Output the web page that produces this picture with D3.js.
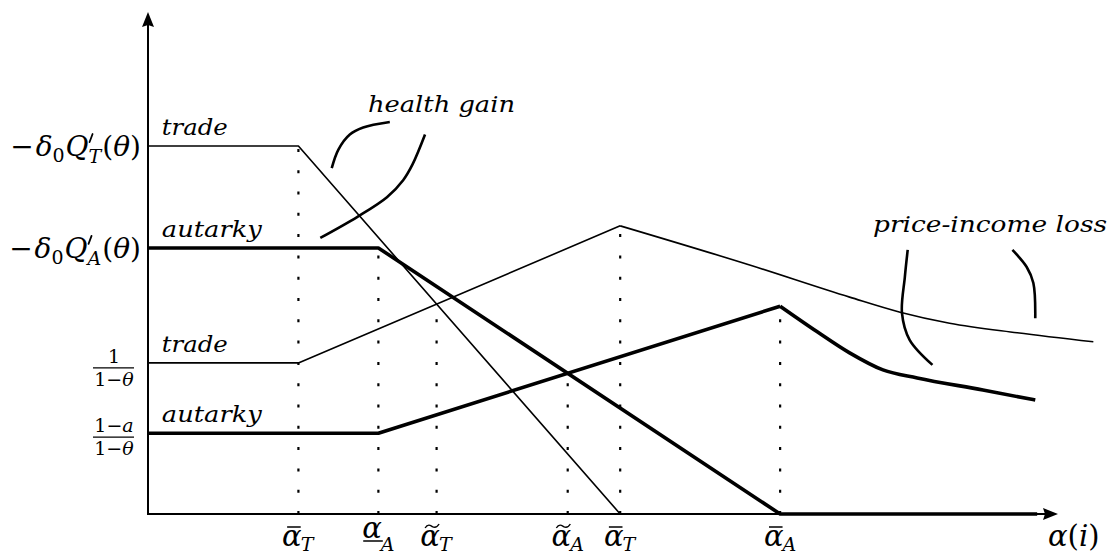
<!DOCTYPE html>
<html>
<head>
<meta charset="utf-8">
<script src="https://cdn.jsdelivr.net/npm/d3@7"></script>
<style>
  body { margin: 0; background: #fff; }
  svg { display: block; }
  text { font-family: 'DejaVu Serif', serif; }
</style>
</head>
<body>
<svg id="chart"></svg>
<script>
var width = 1116, height = 555;

// lines, in abstract units (x: 0..100, y: 0..10)
const healthTrade = [[0, 7.33], [15.8, 7.33], [49.6, 0]];
const healthAutarky = [[0, 5.30], [24.2, 5.30], [66.4, 0], [93.4, 0]];
const priceTrade = [[0, 3.01], [15.8, 3.01], [49.6, 5.74]];
const priceTradeTail = [[49.6, 5.74], [63.2, 4.96], [73.7, 4.32], [79.0, 4.02], [84.2, 3.80], [91.3, 3.61], [99.3, 3.43]];
const priceAutarky = [[0, 1.61], [24.2, 1.61], [66.4, 4.14]];
const priceAutarkyTail = [[66.4, 4.14], [70.3, 3.63], [73.7, 3.21], [77.2, 2.87], [80.8, 2.71], [87.7, 2.47], [93.2, 2.27]];

// little pointer strokes of the two annotations
const braceHealth1 = [[19.3, 6.89], [20.0, 7.26], [21.2, 7.56], [22.6, 7.70], [25.4, 7.81]];
const braceHealth2 = [[29.1, 7.56], [27.8, 6.97], [26.8, 6.65], [25.1, 6.31], [22.0, 5.92], [18.1, 5.50]];
const bracePrice1 = [[79.8, 5.26], [79.5, 4.72], [79.2, 4.00], [80.0, 3.47], [82.4, 2.97]];
const bracePrice2 = [[90.8, 5.26], [92.3, 4.92], [93.0, 4.60], [93.2, 3.90]];

// line labels
const lineLabels = ['trade', 'autarky', 'trade', 'autarky'];
const lineLevels = [7.33, 5.30, 3.01, 1.61];

var x = d3.scaleLinear().domain([0, 100]).range([148, 1100]);
var y = d3.scaleLinear().domain([0, 10]).range([514, 12]);

const svg = d3.select('#chart').attr('width', width).attr('height', height);

var line = d3.line().x(d => x(d[0])).y(d => y(d[1]));
var smooth = d3.line().x(d => x(d[0])).y(d => y(d[1])).curve(d3.curveMonotoneX);
var spline = d3.line().x(d => x(d[0])).y(d => y(d[1])).curve(d3.curveCatmullRom);

function crossing(a1, a2, b1, b2) {
    var sa = (a2[1] - a1[1]) / (a2[0] - a1[0]);
    var sb = (b2[1] - b1[1]) / (b2[0] - b1[0]);
    var xx = (b1[1] - a1[1] + sa * a1[0] - sb * b1[0]) / (sa - sb);
    return [xx, a1[1] + sa * (xx - a1[0])];
}
var tildeT = crossing(healthTrade[1], healthTrade[2], priceTrade[1], priceTrade[2]);
var tildeA = crossing(healthAutarky[1], healthAutarky[2], priceAutarky[1], priceAutarky[2]);

// dotted guides: [x, top]
var guides = [
    [healthTrade[1][0], healthTrade[1][1]],
    [healthAutarky[1][0], healthAutarky[1][1]],
    tildeT,
    tildeA,
    [priceTrade[2][0], priceTrade[2][1]],
    [priceAutarky[2][0], priceAutarky[2][1]]
];
var tickLabels = [
    {acc: 'bar', sub: 'T'}, {acc: 'under', sub: 'A'}, {acc: 'tilde', sub: 'T'},
    {acc: 'tilde', sub: 'A'}, {acc: 'bar', sub: 'T'}, {acc: 'bar', sub: 'A'}
];

svg.append('g').selectAll('line').data(guides).enter().append('line')
    .attr('x1', d => x(d[0])).attr('x2', d => x(d[0]))
    .attr('y1', y(0)).attr('y2', d => y(d[1]))
    .attr('stroke', '#000').attr('stroke-width', 2.2)
    .attr('stroke-dasharray', '3,18.3');

// axes
svg.append('line').attr('x1', x(0)).attr('x2', 1046).attr('y1', y(0)).attr('y2', y(0))
    .attr('stroke', '#000').attr('stroke-width', 2);
svg.append('path').attr('d', `M1058,${y(0)} L1043,${y(0) - 6} L1045,${y(0)} L1043,${y(0) + 6} Z`).attr('fill', '#000');
svg.append('line').attr('x1', x(0)).attr('x2', x(0)).attr('y1', y(0) + 1).attr('y2', 25)
    .attr('stroke', '#000').attr('stroke-width', 2);
svg.append('path').attr('d', `M${x(0)},12 L${x(0) - 6},27 L${x(0)},25 L${x(0) + 6},27 Z`).attr('fill', '#000');

// curves
function draw(data, w, gen) {
    svg.append('path').attr('d', (gen || line)(data))
        .attr('fill', 'none').attr('stroke', '#000')
        .attr('stroke-width', w).attr('stroke-linejoin', 'round');
}
draw(healthTrade, 1.6);
draw(priceTrade, 1.6);
draw(priceTradeTail, 1.6, smooth);
draw(healthAutarky, 3.6);
draw(priceAutarky, 3.6);
draw(priceAutarkyTail, 3.6, smooth);
[braceHealth1, braceHealth2, bracePrice1, bracePrice2].forEach(b => draw(b, 2.6, spline));

// text helpers
function put(g, txt, px, py, size, italic) {
    return g.append('text').attr('x', px).attr('y', py)
        .attr('font-size', size)
        .attr('font-style', italic ? 'italic' : 'normal').text(txt);
}
function span(t, txt, size, italic, dx, dy) {
    return t.append('tspan').attr('font-size', size)
        .attr('font-style', italic ? 'italic' : 'normal')
        .attr('dx', dx || 0).attr('dy', dy || 0).text(txt);
}

function yLabel(sub, py) {
    var t = svg.append('text').attr('y', py).attr('text-anchor', 'end').attr('x', 141);
    span(t, '\u2212', 28, false);
    span(t, '\u03b4', 28, true, 2);
    span(t, '0', 19, false, 0, 6);
    span(t, 'Q', 28, true, 1, -6);
    span(t, sub, 19, true, 0, 7);
    span(t, '(', 28, false, 1, -7);
    span(t, '\u03b8', 28, true);
    span(t, ')', 28, false);
    // prime drawn as a stroke above the subscript
    var q = t.node().getEndPositionOfChar(3);
    svg.append('line').attr('x1', q.x + 4).attr('y1', py - 22).attr('x2', q.x + 1).attr('y2', py - 14)
        .attr('stroke', '#000').attr('stroke-width', 1.8).attr('stroke-linecap', 'round');
}
yLabel('T', y(lineLevels[0]) + 10);
yLabel('A', y(lineLevels[1]) + 10);

function fraction(hasA, py) {
    var g = svg.append('g').attr('transform', `translate(114,${py})`);
    var n = g.append('text').attr('y', -5).attr('text-anchor', 'middle');
    span(n, hasA ? '1\u2212' : '1', 19, false);
    if (hasA) span(n, 'a', 19, true);
    var d = g.append('text').attr('y', 18).attr('text-anchor', 'middle');
    span(d, '1\u2212', 19, false);
    span(d, '\u03b8', 19, true);
    g.append('line').attr('x1', -21).attr('x2', 20).attr('y1', 0).attr('y2', 0)
        .attr('stroke', '#000').attr('stroke-width', 1.3);
}
fraction(false, y(lineLevels[2]) + 5);
fraction(true, y(lineLevels[3]) + 4);

// line labels
lineLabels.forEach((l, i) => {
    put(svg, l, x(1.45), y(lineLevels[i]) - 11, 23, true)
        .attr('textLength', l == 'trade' ? 66 : 100).attr('lengthAdjust', 'spacingAndGlyphs');
});

// x tick labels
function alphaLabel(px, lab) {
    var g = svg.append('g');
    var raise = lab.acc == 'under' ? -8 : 0;
    var t = g.append('text').attr('y', 0);
    var a = span(t, '\u03b1', 29, true, 0, raise);
    var aw = a.node().getComputedTextLength();
    span(t, lab.sub, 19, true, -1, 5 - raise);
    if (lab.acc == 'bar') {
        g.append('line').attr('x1', 5).attr('x2', aw - 1)
            .attr('y1', -19).attr('y2', -19).attr('stroke', '#000').attr('stroke-width', 1.5);
    } else if (lab.acc == 'under') {
        g.append('line').attr('x1', 1).attr('x2', aw + 1)
            .attr('y1', -5).attr('y2', -5).attr('stroke', '#000').attr('stroke-width', 1.5);
    } else {
        var c = aw / 2 + 2;
        g.append('path').attr('d', `M${c - 7},-18 C${c - 4},-23 ${c - 1},-20 ${c},-19.5 S${c + 4},-17 ${c + 7},-22`)
            .attr('fill', 'none').attr('stroke', '#000').attr('stroke-width', 1.4);
    }
    var gb = g.node().getBBox();
    g.attr('transform', `translate(${px - gb.x - gb.width / 2},546)`);
}
guides.forEach((d, i) => alphaLabel(x(d[0]), tickLabels[i]));

var ai = svg.append('text').attr('x', 1048).attr('y', 546);
span(ai, '\u03b1', 29, true);
span(ai, '(', 29, false);
span(ai, 'i', 29, true);
span(ai, ')', 29, false);

put(svg, 'health gain', 368, 112, 23, true).attr('textLength', 147).attr('lengthAdjust', 'spacingAndGlyphs');
put(svg, 'price-income loss', 873, 232, 23, true).attr('textLength', 234).attr('lengthAdjust', 'spacingAndGlyphs');
</script>
</body>
</html>
